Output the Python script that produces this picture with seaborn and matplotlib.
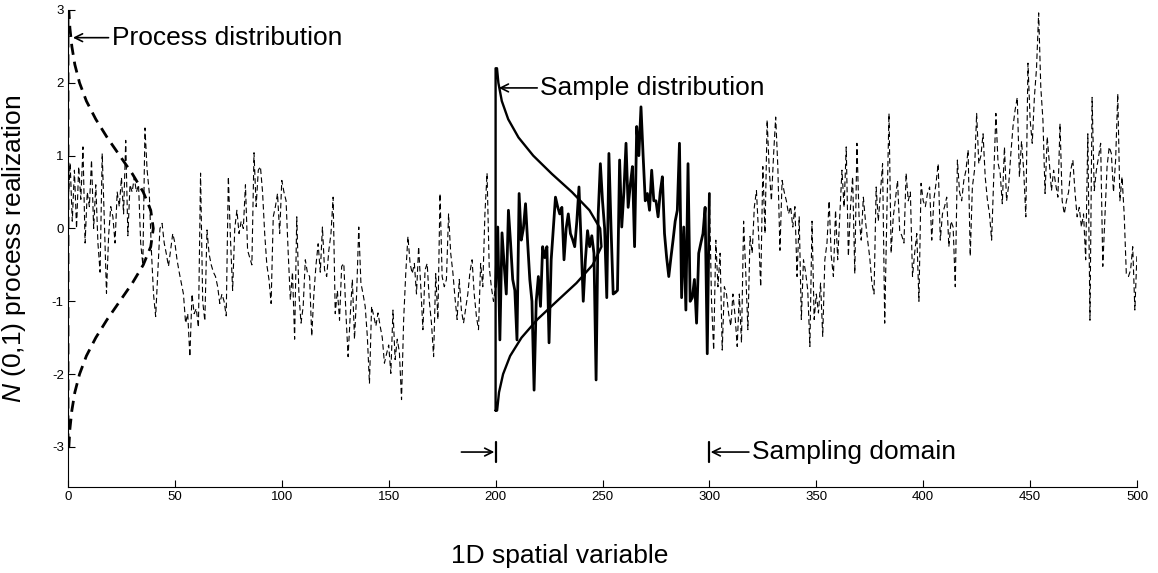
import numpy as np
import pandas as pd
import matplotlib
matplotlib.use("Agg")
import matplotlib.pyplot as plt
import seaborn as sns

# ---------------- data ----------------
# N(0,1) process realization at x = 0 .. 500
process_values = [
    0.30, 0.90, 0.10, 0.80, 0.00, 0.85, 0.40, 1.12, -0.20, 0.50,
    0.30, 0.94, 0.00, 0.60, -0.20, -0.60, 1.03, 0.10, -0.89, -0.10,
    0.30, 0.16, -0.20, 0.50, 0.30, 0.70, 0.20, 1.21, -0.10, 0.60,
    0.50, 0.70, 0.50, 0.60, -0.20, -0.50, 1.38, 0.80, 0.50, -0.30,
    -0.90, -1.21, -0.61, 0.00, 0.07, -0.20, -0.35, -0.52, -0.30, -0.07,
    -0.20, -0.43, -0.60, -0.75, -0.90, -1.30, -1.17, -1.76, -0.90, -1.17,
    -1.10, -1.36, 0.76, -1.00, -1.27, -0.02, -0.35, -0.50, -0.60, -0.66,
    -0.80, -1.03, -0.90, -1.00, -1.20, 0.71, -0.15, -0.85, 0.00, 0.25,
    -0.07, 0.10, 0.00, 0.60, -0.30, -0.40, -0.50, 1.04, 0.30, 0.80,
    0.85, 0.50, -0.07, -0.50, -0.70, -1.03, 0.16, 0.30, 0.48, -0.07,
    0.66, 0.50, 0.38, -0.34, -0.98, -0.60, -1.52, 0.16, -0.90, -1.30,
    -1.07, -0.43, -0.61, -0.66, -1.48, -0.90, -0.50, -0.21, -0.60, 0.02,
    -0.57, -0.66, -0.30, -0.07, 0.43, -1.17, -0.85, -1.26, -0.52, -0.48,
    -1.17, -1.76, -1.20, -0.70, -1.52, -0.90, 0.02, -0.75, -0.90, -1.07,
    -1.48, -2.13, -1.07, -1.20, -1.34, -1.16, -1.34, -1.50, -1.85, -1.72,
    -1.60, -1.99, -1.12, -1.80, -1.52, -1.70, -2.35, -1.25, -0.60, -0.11,
    -0.48, -0.62, -0.48, -0.90, -0.25, -0.80, -1.39, -0.57, -0.48, -1.00,
    -1.30, -1.76, -0.62, -1.25, 0.48, -0.66, -0.80, -0.70, 0.20, -0.34,
    -0.60, -0.95, -1.25, -0.70, -1.12, -1.30, -1.10, -0.90, -0.60, -0.43,
    -0.90, -1.20, -1.39, -0.48, -0.80, 0.20, 0.76, -0.52, -0.80, -1.00,
    -0.80, 0.02, -1.53, -0.06, -0.50, -0.90, 0.25, -0.20, -0.70, -0.85,
    -1.53, 0.48, -0.16, 0.00, 0.34, -0.20, -0.70, -1.00, -2.22, -1.00,
    -0.66, -1.07, -0.25, -0.40, -0.25, -1.57, -0.43, 0.00, 0.43, 0.30,
    0.20, 0.29, -0.43, 0.00, 0.20, -0.07, -0.15, -0.25, 0.10, 0.57,
    -0.20, -1.00, -0.43, -0.03, -0.25, -0.10, -0.34, -2.08, 0.20, 0.89,
    0.38, 0.00, -0.95, 1.03, 0.00, -0.90, -0.88, -0.85, 0.94, 0.02,
    0.50, 1.17, 0.29, 0.60, 0.85, -0.25, 1.40, 1.00, 1.67, 1.00,
    0.38, 0.48, 0.25, 0.80, 0.38, 0.38, 0.16, 0.50, 0.71, -0.07,
    -0.40, -0.66, -0.40, -0.16, 0.10, 0.25, 1.17, -0.95, 0.02, -1.12,
    0.89, -1.00, -0.95, -0.70, -1.30, -0.34, -0.20, -0.07, 0.29, -1.72,
    0.48, -1.00, -1.67, -0.16, -0.80, -0.34, -1.67, -0.80, -0.90, -1.17,
    -1.34, -0.90, -1.20, -1.62, -0.90, -1.57, 0.10, -0.60, -1.39, -0.11,
    -0.34, 0.29, 0.52, -0.07, -0.80, 0.85, -0.07, 1.49, 0.80, 0.38,
    1.00, 1.53, 0.85, -0.30, 0.66, 0.50, 0.38, 0.20, 0.30, 0.02,
    0.30, -0.66, 0.16, -1.25, -0.43, -0.60, -0.85, -1.62, 0.10, -1.25,
    -0.90, -1.16, -0.75, -1.48, -0.43, -0.20, 0.38, -0.38, -0.66, 0.25,
    -0.43, 0.20, 0.80, 0.29, 1.12, -0.38, 0.30, 0.71, -0.62, 1.17,
    0.16, -0.16, 0.43, 0.10, -0.16, -0.40, -0.75, -0.90, 0.57, 0.10,
    0.50, 0.89, -1.30, 0.20, 1.58, -0.34, 0.16, 0.40, 0.66, -0.03,
    -0.10, -0.20, 0.76, 0.38, 0.50, -0.66, -0.34, -0.07, -1.00, 0.62,
    0.38, 0.30, 0.48, 0.57, -0.16, 0.40, 0.62, 0.89, -0.16, 0.20,
    0.30, 0.43, -0.25, 0.10, 0.02, -0.80, 0.94, 0.50, 0.38, 0.66,
    0.80, 1.08, -0.38, 0.57, 0.80, 1.58, 0.89, 1.00, 1.30, 0.71,
    0.40, 0.20, -0.16, 0.71, 1.58, 0.90, 0.76, 0.34, 1.12, 0.38,
    0.60, 1.03, 1.40, 1.63, 1.80, 0.71, 1.20, 0.80, 0.16, 2.27,
    1.50, 1.17, 1.80, 2.20, 2.96, 1.94, 1.49, 0.48, 1.26, 0.90,
    0.52, 0.80, 0.60, 0.43, 1.44, 0.38, 0.20, 0.38, 0.50, 0.80,
    0.94, 0.50, 0.16, 0.29, 0.02, 0.20, -0.43, 1.30, -1.26, 1.80,
    0.52, 0.80, 0.98, 1.17, -0.52, 0.16, 0.85, 1.12, 1.03, 0.50,
    0.94, 1.85, 0.38, 0.71, 0.20, -0.62, -0.66, -0.57, -0.25, -1.12,
    -0.34,
]
sample_start = 200
sample_end = 300

# process distribution (dashed, drawn from x = 0): level -> width
process_levels = [-3.0, -2.75, -2.5, -2.25, -2.0, -1.75, -1.5, -1.25, -1.0,
                  -0.75, -0.5, -0.25, 0.0, 0.25, 0.5, 0.75, 1.0, 1.25, 1.5,
                  1.75, 2.0, 2.25, 2.5, 2.75, 3.0]
process_widths = [0.4, 0.9, 1.8, 3.2, 5.4, 8.6, 13.0, 18.3, 24.2,
                  30.1, 35.2, 38.7, 39.9, 38.7, 35.2, 30.1, 24.2, 18.3, 13.0,
                  8.6, 5.4, 3.2, 1.8, 0.9, 0.4]
process_base = 0

# sample distribution (solid, drawn from x = 200): level -> width
sample_levels = [-2.5, -2.25, -2.0, -1.75, -1.5, -1.25, -1.0, -0.75, -0.5,
                 -0.25, 0.0, 0.25, 0.5, 0.75, 1.0, 1.25, 1.5, 1.75, 2.0, 2.2]
sample_widths = [0.7, 1.6, 3.5, 6.8, 12.1, 19.5, 28.6, 37.8, 45.4,
                 49.5, 48.9, 43.9, 35.7, 26.3, 17.6, 10.7, 5.9, 2.9, 1.3, 0.65]
sample_base = 200

x_ticks = [0, 50, 100, 150, 200, 250, 300, 350, 400, 450, 500]
y_ticks = [-3, -2, -1, 0, 1, 2, 3]

# ---------------- styling ----------------
sns.set_theme(style="ticks")
plt.rcParams["font.family"] = ["Liberation Sans", "DejaVu Sans"]
plt.rcParams["mathtext.fontset"] = "custom"
plt.rcParams["mathtext.it"] = "Liberation Sans:italic"
plt.rcParams["mathtext.rm"] = "Liberation Sans"
plt.rcParams["axes.unicode_minus"] = False
plt.rcParams["text.color"] = "black"
plt.rcParams["axes.labelcolor"] = "black"
plt.rcParams["xtick.color"] = "black"
plt.rcParams["ytick.color"] = "black"

W, H = 1158, 573
fig = plt.figure(figsize=(W / 100, H / 100), dpi=100)
ax = fig.add_axes([68 / W, 1 - 487 / H, (1137 - 68) / W, (487 - 10) / H])

df = pd.DataFrame({"x": np.arange(len(process_values)), "y": process_values})
sub = df[(df.x >= sample_start) & (df.x <= sample_end)]

# full realization, thin dashed
sns.lineplot(data=df, x="x", y="y", ax=ax, color="black", lw=0.8,
             linestyle=(0, (5, 3)), estimator=None, sort=False)
# sampled part, thick solid
sns.lineplot(data=sub, x="x", y="y", ax=ax, color="black", lw=2.0,
             estimator=None, sort=False)

# process distribution curve (closed to its base line)
px = [process_base] + [process_base + w for w in process_widths] + [process_base]
py = [process_levels[0]] + process_levels + [process_levels[-1]]
pdist = pd.DataFrame({"x": px + [process_base], "y": py + [process_levels[0]]})
sns.lineplot(data=pdist, x="x", y="y", ax=ax, color="black", lw=2.0,
             linestyle=(0, (4, 2.5)), estimator=None, sort=False)

# sample distribution curve
sx = [sample_base] + [sample_base + w for w in sample_widths] + [sample_base]
sy = [sample_levels[0]] + sample_levels + [sample_levels[-1]]
sdist = pd.DataFrame({"x": sx + [sample_base], "y": sy + [sample_levels[0]]})
sns.lineplot(data=sdist, x="x", y="y", ax=ax, color="black", lw=1.7,
             estimator=None, sort=False)

ax.set_xlim(0, 500)
ax.set_ylim(-3.55, 3.0)
ax.set_xticks(x_ticks)
ax.set_yticks(y_ticks)
ax.set_xticklabels([str(t) for t in x_ticks])
ax.set_yticklabels([str(t) for t in y_ticks])
ax.tick_params(direction="in", length=5, width=0.8, labelsize=9.5, pad=3,
               colors="black")
sns.despine(ax=ax)
for s in ("left", "bottom"):
    ax.spines[s].set_linewidth(0.8)
    ax.spines[s].set_color("black")

ax.set_xlabel("1D spatial variable", fontsize=19, color="black")
ax.set_ylabel("$N$ (0,1) process realization", fontsize=19, color="black")
ax.xaxis.set_label_coords(0.46, -0.12)
ax.yaxis.set_label_coords(-0.037, 0.5)

arrow = dict(arrowstyle="->", lw=1.2, color="black",
             shrinkA=0, shrinkB=0, mutation_scale=14)
ax.annotate("Process distribution", xy=(2.3, 2.62), xytext=(20.5, 2.62),
            fontsize=19, va="center", ha="left", color="black",
            arrowprops=arrow)
ax.annotate("Sample distribution", xy=(201.5, 1.93), xytext=(221, 1.93),
            fontsize=19, va="center", ha="left", color="black",
            arrowprops=arrow)
ax.annotate("Sampling domain", xy=(300.6, -3.07), xytext=(320, -3.07),
            fontsize=19, va="center", ha="left", color="black",
            arrowprops=arrow)
ax.annotate("", xy=(199.4, -3.07), xytext=(184, -3.07), arrowprops=arrow)
ax.plot([sample_start, sample_start], [-2.93, -3.21], color="black", lw=1.6)
ax.plot([sample_end, sample_end], [-2.93, -3.21], color="black", lw=1.6)

fig.savefig("out.png", dpi=100, facecolor="white")
